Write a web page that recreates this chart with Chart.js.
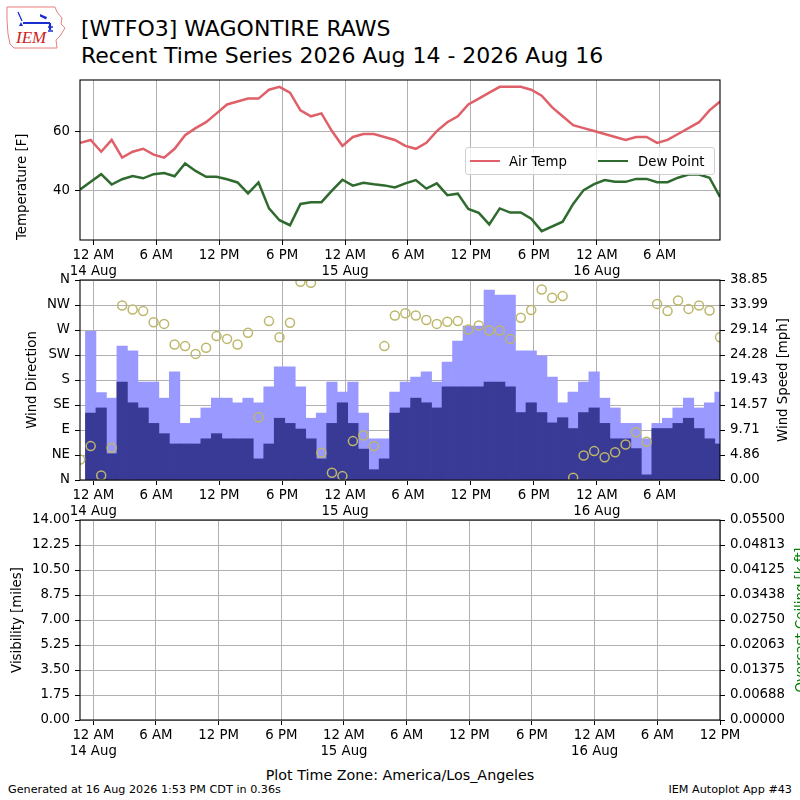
<!DOCTYPE html>
<html>
<head>
<meta charset="utf-8">
<script src="https://cdn.jsdelivr.net/npm/chart.js@4.4.1/dist/chart.umd.min.js"></script>
<style>
  html,body{margin:0;padding:0;background:#fff;}
  body{width:800px;height:800px;overflow:hidden;position:relative;font-family:"DejaVu Sans",sans-serif;color:#000;}
  canvas{position:absolute;left:0;}
  .txt{position:absolute;white-space:nowrap;line-height:1;}
  .rot{position:absolute;white-space:nowrap;line-height:1;transform:translate(-50%,-50%) rotate(-90deg);font-size:13.3px;}
  #legend{position:absolute;left:465px;top:147px;width:248px;height:26px;border:1px solid #d0d0d0;border-radius:3px;background:rgba(255,255,255,0.8);font-size:13.3px;}
  #legend span.ln{position:absolute;top:12px;width:30px;height:0;border-top:2.5px solid;}
  #legend span.lb{position:absolute;top:6px;}
</style>
</head>
<body>
<!-- IEM logo -->
<svg style="position:absolute;left:0;top:0" width="75" height="60" viewBox="0 0 75 60">
  <path d="M7 7 L55 7 L57 12 L62 18 L61 24 L65 28 L60 36 L56 40 L57 48 L14 48 L10 44 L8 34 L7 20 Z" fill="none" stroke="#ea7f7f" stroke-width="1"/>
  <path d="M23 23 L50 23 M50 23 L50 30" stroke="#1a2fd0" stroke-width="2.2" fill="none"/>
  <path d="M48 27 L53 27 M48 31 L53 31 M18 12 L22 21" stroke="#1a2fd0" stroke-width="1.3" fill="none"/>
  <path d="M40 14 L47 17 L46 19.5 L40 16.5 Z" fill="#1a2fd0"/>
  <path d="M19 26 L21 22 L23 26 Z" fill="#1a2fd0"/>
  <text x="16" y="43" font-family="Liberation Serif" font-style="italic" font-size="17" fill="#cc2222">IEM</text>
</svg>
<div class="txt" style="left:81px;top:18px;font-size:22px;">[WTFO3] WAGONTIRE RAWS</div>
<div class="txt" style="left:81px;top:45px;font-size:22px;">Recent Time Series 2026 Aug 14 - 2026 Aug 16</div>

<canvas id="c1" width="800" height="230" style="top:60px"></canvas>
<canvas id="c2" width="800" height="253" style="top:267px"></canvas>
<canvas id="c3" width="800" height="260" style="top:500px"></canvas>

<div id="legend">
  <span class="ln" style="left:4px;border-color:#df6068"></span><span class="lb" style="left:43px">Air Temp</span>
  <span class="ln" style="left:132px;border-color:#2f6a2f"></span><span class="lb" style="left:172px">Dew Point</span>
</div>
<div class="rot" style="left:783px;top:380px;">Wind Speed [mph]</div>
<div class="rot" style="left:801px;top:620px;color:#008000;">Overcast Ceiling [k ft]</div>
<div class="txt" style="left:400px;top:768px;font-size:14.3px;transform:translateX(-50%);">Plot Time Zone: America/Los_Angeles</div>
<div class="txt" style="left:8px;top:784px;font-size:11.2px;">Generated at 16 Aug 2026 1:53 PM CDT in 0.36s</div>
<div class="txt" style="right:8px;top:784px;font-size:11.2px;">IEM Autoplot App #43</div>

<script>
// observation times, hours after 14 Aug 00:00 (local)
const obsHours = [-1.25,-0.25,0.75,1.75,2.75,3.75,4.75,5.75,6.75,7.75,8.75,9.75,10.75,11.75,12.75,13.75,
  14.75,15.75,16.75,17.75,18.75,19.75,20.75,21.75,22.75,23.75,24.75,25.75,26.75,27.75,28.75,29.75,30.75,
  31.75,32.75,33.75,34.75,35.75,36.75,37.75,38.75,39.75,40.75,41.75,42.75,43.75,44.75,45.75,46.75,47.75,
  48.75,49.75,50.75,51.75,52.75,53.75,54.75,55.75,56.75,57.75,58.75,59.75];
const tempF = [56,57,53,57,51,53,54,52,51,54,58.6,61,63,66,69,70,71,71,74,75,73,67,65,66,60,55,58,59,59,58,
  57,55,54,56,60,63,65,69,71,73,75,75,75,74,72,68,65,62,61,60,59,58,57,58,58,56,57,59,61,63,67,70];
const dewF = [40.2,42.8,45.4,41.9,43.7,44.8,44.0,45.4,45.8,44.7,49.0,46.5,44.5,44.5,43.7,42.6,38.9,42.6,33.8,
  29.8,28.1,35.3,35.9,35.9,39.8,43.5,41.5,42.5,42.0,41.6,40.9,42.3,43.4,40.5,42.3,38.3,38.8,33.6,32.3,28.4,
  33.8,32.4,32.4,30.3,26.1,null,29.3,35.3,40.0,42.0,43.4,42.8,42.8,43.8,43.8,42.7,42.7,44.2,45.3,45.3,44.2,37.7];
const windDirDeg = [37,61,8,58,314,307,304,284,281,244,241,227,238,259,254,244,265,113,286,257,283,357,355,49,
  13,7,70,80,61,241,296,300,296,288,281,285,286,271,278,269,269,254,292,306,343,328,331,4,44,52,41,50,64,86,
  69,317,304,323,308,314,305,257];
const windSpeedMph = [null,13,14,5.1,19,15,14,11,9,7,7,7,8,9,8,8,8,4.1,7,12,11,9.9,8,4.1,11,15,11,6,2,4.1,13,14,
  15.9,15,14,18.1,18.1,18.1,18.1,19,19,18.1,13.1,15,13.1,11.1,12.1,10,13.1,14,11,8,8,6.1,1,10,10,11,12,10,8,7];
const windGustMph = [null,28.9,17,15.9,26,25.1,19,19,15.9,21,11,12,14,15.9,15.9,15,15.9,15,18.1,22,22,18.1,12,13,
  19,17.1,19,13,8,8,17.1,19,20,21,19,22.9,27,29.9,29.9,36.9,35.9,35.9,25.1,25.1,24.1,20,15,17.1,19,21,15.9,14,
  11,11,8,11,12,14,15.9,14,15,17.1];
const visibilityMiles = [];
const ceilingKft = [];

const xTickHours = [0,6,12,18,24,30,36,42,48,54,60];
const hourNames = ['12 AM','6 AM','12 PM','6 PM'];
const dayNames = ['14 Aug','15 Aug','16 Aug'];
const tempTicks = [40,60];
const dirTickLabels = ['N','NE','E','SE','S','SW','W','NW','N'];
const speedTickLabels = ['0.00','4.86','9.71','14.57','19.43','24.28','29.14','33.99','38.85'];
const visTickLabels = ['0.00','1.75','3.50','5.25','7.00','8.75','10.50','12.25','14.00'];
const ceilTickLabels = ['0.00000','0.00688','0.01375','0.02063','0.02750','0.03438','0.04125','0.04813','0.05500'];

const X_MIN = -1.27, OBS_MAX = 59.75, FIG_MAX = 60;
const GRID = '#b0b0b0';
const RED = '#df6068', GREEN = '#2f6a2f', LIGHT = '#9999ff', DARK = '#393996', KHAKI = '#bdb76b';

Chart.defaults.font.family = '"DejaVu Sans", sans-serif';
Chart.defaults.font.size = 13.3;
Chart.defaults.color = '#000';

function pts(vals){ return vals.map((v,i)=>({x:obsHours[i], y:v})); }
function tickLabel(v){
  const hod = ((v%24)+24)%24;
  const lbl = hourNames[hod/6];
  return hod===0 ? [lbl, dayNames[v/24]] : lbl;
}
// black frame round the plot area
const framePlugin = { id:'frame', afterDraw(c){
  const a=c.chartArea, g=c.ctx; g.save(); g.strokeStyle='#000'; g.lineWidth=1.1;
  g.strokeRect(a.left, a.top, a.right-a.left, a.bottom-a.top); g.restore(); } };

function timeAxis(maxH, h, z){
  return { type:'linear', min:X_MIN, max:maxH, offset:false, z:z||0,
    afterBuildTicks: s => { s.ticks = xTickHours.filter(v=>v<=maxH).map(v=>({value:v})); },
    afterFit: s => { s.height = h; },
    grid:{ color:GRID, lineWidth:1, tickColor:'#000', tickLength:5, offset:false },
    border:{ display:false },
    ticks:{ autoSkip:false, maxRotation:0, minRotation:0, padding:3, callback: v => tickLabel(v) } };
}
function leftAxis(min, max, ticks, labels, title, titlePad, z, align){
  return { type:'linear', position:'left', min, max, z:z||0,
    afterBuildTicks: s => { s.ticks = ticks.map(v=>({value:v})); },
    afterFit: s => { s.width = 80; },
    grid:{ color:GRID, lineWidth:1, tickColor:'#000', tickLength:5 },
    border:{ display:false },
    ticks:{ padding:5, callback: (v,i) => labels ? labels[i] : String(v) },
    title:{ display:true, text:title, align:align||'center', padding:{top:titlePad, bottom:0} } };
}
function rightAxis(max, labels, z){
  const n = labels.length - 1;
  return { type:'linear', position:'right', min:0, max, z:z||0,
    afterBuildTicks: s => { s.ticks = labels.map((l,i)=>({value:max*i/n})); },
    afterFit: s => { s.width = 80; },
    grid:{ drawOnChartArea:false, tickColor:'#000', tickLength:5 },
    border:{ display:false },
    ticks:{ padding:5, callback: (v,i) => labels[i] } };
}
const base = { responsive:false, animation:false, devicePixelRatio:1, events:[],
  plugins:{ legend:{display:false}, tooltip:{enabled:false} } };

// panel 1: temperatures
new Chart(document.getElementById('c1'), {
  type:'line',
  data:{ datasets:[
    { label:'Air Temp', data:pts(tempF), borderColor:RED, borderWidth:2.5, pointRadius:0, tension:0 },
    { label:'Dew Point', data:pts(dewF), borderColor:GREEN, borderWidth:2.5, pointRadius:0, tension:0, spanGaps:true }
  ]},
  options: Object.assign({}, base, {
    layout:{ padding:{ top:20, right:80, left:0, bottom:0 } },
    scales:{ x: timeAxis(OBS_MAX, 50), y: leftAxis(23.1, 77.3, tempTicks, null, 'Temperature [F]', 14.5, 0, 'start') } }),
  plugins:[framePlugin]
});

// panel 2: wind direction + speed / gust
new Chart(document.getElementById('c2'), {
  type:'bar',
  data:{ datasets:[
    { type:'scatter', label:'Wind Direction', data:pts(windDirDeg), yAxisID:'y', pointStyle:'circle',
      pointRadius:4.5, pointBorderWidth:1.5, pointBorderColor:KHAKI, pointBackgroundColor:'rgba(0,0,0,0)', showLine:false },
    { type:'bar', label:'Wind Speed', data:pts(windSpeedMph), yAxisID:'y2', backgroundColor:DARK,
      barPercentage:1, categoryPercentage:1, grouped:false, borderWidth:0 },
    { type:'bar', label:'Wind Gust', data:pts(windGustMph), yAxisID:'y2', backgroundColor:LIGHT,
      barPercentage:1, categoryPercentage:1, grouped:false, borderWidth:0 }
  ]},
  options: Object.assign({}, base, {
    layout:{ padding:{ top:13, right:0, left:0, bottom:0 } },
    scales:{ x: timeAxis(OBS_MAX, 40, 1),
      y: leftAxis(0, 360, [0,45,90,135,180,225,270,315,360], dirTickLabels, 'Wind Direction', 25, 1),
      y2: rightAxis(38.85, speedTickLabels, 1) } }),
  plugins:[framePlugin]
});

// panel 3: visibility + ceiling (no reports in this period)
new Chart(document.getElementById('c3'), {
  type:'line',
  data:{ datasets:[
    { label:'Visibility', data:pts(visibilityMiles), yAxisID:'y', borderColor:'#000' },
    { label:'Ceiling', data:pts(ceilingKft), yAxisID:'y2', borderColor:'#008000' }
  ]},
  options: Object.assign({}, base, {
    layout:{ padding:{ top:20, right:0, left:0, bottom:0 } },
    scales:{ x: timeAxis(FIG_MAX, 40),
      y: leftAxis(0, 14, [0,1.75,3.5,5.25,7,8.75,10.5,12.25,14], visTickLabels, 'Visibility [miles]', 9.5),
      y2: rightAxis(0.055, ceilTickLabels) } }),
  plugins:[framePlugin]
});
</script>
</body>
</html>
